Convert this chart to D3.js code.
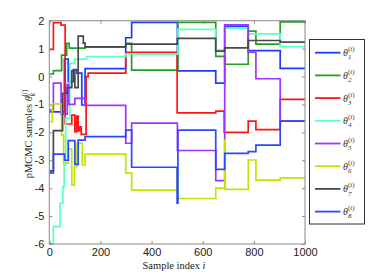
<!DOCTYPE html>
<html>
<head>
<meta charset="utf-8">
<script src="https://cdn.jsdelivr.net/npm/d3@7"></script>
<style>
body { margin: 0; background: #fff; }
</style>
</head>
<body>
<script>
// sample index ticks and parameter ticks
const xTicks = [0, 200, 400, 600, 800, 1000];
const yTicks = [-6, -5, -4, -3, -2, -1, 0, 1, 2];

// each chain is [sample index, value], held until the next change
const theta1 = [[0,-1.27],[59,0.62],[74,-0.18],[94,0.25],[108,0.12],[127,-1.02],[140,0.28],[299,1.39],[322,1.94],[501,0.2],[651,-0.24],[686,1.8],[778,0.93],[903,0.29],[1000,0.29]];
const theta2 = [[0,0.09],[16,0.21],[48,0.77],[68,1.19],[78,1.02],[140,1.06],[299,1.19],[322,0.23],[503,1.94],[651,0.72],[686,0.44],[778,1.63],[808,1.16],[903,1.96],[1000,1.96]];
const theta3 = [[0,0.97],[16,1.93],[46,1.84],[62,-1.7],[88,-1.38],[100,-1.98],[107,-1.42],[113,-1.95],[118,-1.8],[125,-2.07],[144,0.0],[152,0.12],[299,0.87],[500,-1.3],[651,-1.24],[684,-2.0],[778,-1.6],[808,-1.9],[903,-0.82],[1000,-0.82]];
const theta4 = [[0,-5.97],[16,-5.38],[42,-4.54],[53,-3.95],[58,-3.17],[64,-1.5],[80,0.47],[100,0.62],[146,0.71],[299,0.8],[503,1.69],[651,0.95],[686,1.73],[778,1.53],[903,1.07],[1000,1.07]];
const theta5 = [[0,-1.2],[16,-0.24],[46,-1.35],[70,-0.28],[76,-1.0],[100,-0.78],[140,-1.03],[299,-2.39],[322,-1.67],[501,-2.65],[651,-3.73],[686,1.85],[778,0.87],[808,-0.08],[903,-1.6],[1000,-1.6]];
const theta6 = [[0,-1.62],[12,-0.98],[48,-2.1],[56,-3.1],[75,-2.6],[88,-3.89],[98,-3.23],[107,-2.39],[129,-3.17],[140,-2.78],[299,-3.45],[322,-4.07],[500,-3.33],[502,-4.37],[651,-4.0],[686,-2.28],[688,-4.04],[778,-2.99],[808,-3.71],[903,-3.63],[1000,-3.63]];
const theta7 = [[0,-3.38],[16,-1.94],[52,-0.6],[70,-0.4],[88,0.2],[100,-0.4],[113,1.45],[133,1.2],[140,1.06],[299,1.16],[501,1.37],[651,0.91],[686,1.03],[778,1.29],[903,1.23],[1000,1.23]];
const theta8 = [[0,-3.45],[16,-2.78],[60,-3.0],[74,-2.3],[100,-3.15],[113,-2.28],[140,-2.15],[299,-1.92],[322,-3.25],[500,-4.54],[503,-1.92],[651,-3.33],[686,-2.75],[778,-2.69],[808,-2.46],[903,-1.6],[1000,-1.6]];

const chains = [theta1, theta2, theta3, theta4, theta5, theta6, theta7, theta8];
const chainSubs = ["1", "2", "3", "4", "5", "6", "7", "8"];
const chainColors = ["#1c3cff", "#22a020", "#ff1414", "#5cffc4", "#a034ff", "#c2e400", "#484848", "#2a48ff"];

const width = 374, height = 275;
const plotLeft = 49.3, plotRight = 305, plotTop = 20.7, plotBottom = 244;

const svg = d3.select("body").append("svg")
    .attr("width", width)
    .attr("height", height)
    .style("font-family", "'Liberation Sans', Arial, sans-serif");

const x = d3.scaleLinear().domain([0, 1000]).range([plotLeft, plotRight]);
const y = d3.scaleLinear().domain([-6, 2]).range([plotBottom, plotTop]);

// chains
const line = d3.line()
    .x(d => x(d[0]))
    .y(d => y(d[1]))
    .curve(d3.curveStepAfter);

svg.append("g").selectAll("path")
    .data(chains)
    .enter().append("path")
    .attr("d", line)
    .attr("fill", "none")
    .attr("stroke", (d, i) => chainColors[i])
    .attr("stroke-width", 1.7)
    .attr("stroke-linejoin", "miter");

// axes box with inward ticks on all four sides
const axisColor = "#8a8a8a";
const tickLen = 3;
const bottomAxis = d3.axisBottom(x).tickValues(xTicks).tickSizeInner(-tickLen).tickSizeOuter(0).tickPadding(4.5).tickFormat(d => String(d));
const leftAxis = d3.axisLeft(y).tickValues(yTicks).tickSizeInner(-tickLen).tickSizeOuter(0).tickPadding(5).tickFormat(d => String(d));
const topAxis = d3.axisTop(x).tickValues(xTicks).tickSizeInner(-tickLen).tickSizeOuter(0).tickFormat("");
const rightAxis = d3.axisRight(y).tickValues(yTicks).tickSizeInner(-tickLen).tickSizeOuter(0).tickFormat("");

function styleAxis(g) {
    g.select(".domain").remove();
    g.selectAll(".tick line").attr("stroke", axisColor);
    g.selectAll(".tick text").attr("fill", "#222").attr("font-size", 11)
        .attr("font-family", "'Liberation Sans', Arial, sans-serif");
}

svg.append("g").attr("transform", `translate(0,${plotBottom})`).call(bottomAxis).call(styleAxis);
svg.append("g").attr("transform", `translate(${plotLeft},0)`).call(leftAxis).call(styleAxis);
svg.append("g").attr("transform", `translate(0,${plotTop})`).call(topAxis).call(styleAxis);
svg.append("g").attr("transform", `translate(${plotRight},0)`).call(rightAxis).call(styleAxis);

svg.append("rect")
    .attr("x", plotLeft).attr("y", plotTop)
    .attr("width", plotRight - plotLeft).attr("height", plotBottom - plotTop)
    .attr("fill", "none")
    .attr("stroke", axisColor)
    .attr("stroke-width", 1);

// theta with subscript and (i) superscript
function addTheta(text, sub, fs) {
    const s = fs * 0.7;
    text.append("tspan").attr("font-style", "italic").text("θ");
    text.append("tspan").attr("font-size", s).attr("font-style", "italic").attr("dy", fs * 0.32).text(sub);
    text.append("tspan").attr("font-size", s).attr("dx", -s * 0.5).attr("dy", -fs * 0.82).text("(");
    text.append("tspan").attr("font-size", s).attr("font-style", "italic").text("i");
    text.append("tspan").attr("font-size", s).text(")");
}

const serif = "'Liberation Serif', 'Times New Roman', serif";

// axis labels
const xLabel = svg.append("text")
    .attr("x", 174).attr("y", 269)
    .attr("text-anchor", "middle")
    .attr("font-family", serif).attr("font-size", 10.5)
    .attr("fill", "#222");
xLabel.append("tspan").text("Sample index ");
xLabel.append("tspan").attr("font-style", "italic").text("i");

const yLabel = svg.append("text")
    .attr("transform", "translate(32,134) rotate(-90)")
    .attr("text-anchor", "middle")
    .attr("font-family", serif).attr("font-size", 10.5)
    .attr("fill", "#222");
yLabel.append("tspan").text("pMCMC samples ");
addTheta(yLabel, "k", 10.5);

// legend
const legend = svg.append("g");
legend.append("rect")
    .attr("x", 309.5).attr("y", 39.5)
    .attr("width", 55).attr("height", 184.5)
    .attr("fill", "#fff")
    .attr("stroke", "#333")
    .attr("stroke-width", 1);

const rows = legend.selectAll(".row")
    .data(chainSubs)
    .enter().append("g")
    .attr("class", "row")
    .attr("transform", (d, i) => `translate(0,${52.7 + i * 22.7})`);

rows.append("line")
    .attr("x1", 315).attr("x2", 340.5)
    .attr("stroke", (d, i) => chainColors[i])
    .attr("stroke-width", 1.8);

rows.append("text")
    .attr("x", 343).attr("y", 3.5)
    .attr("font-family", serif).attr("font-size", 10)
    .attr("fill", "#333")
    .each(function(d) { addTheta(d3.select(this), d, 10); });
</script>
</body>
</html>
